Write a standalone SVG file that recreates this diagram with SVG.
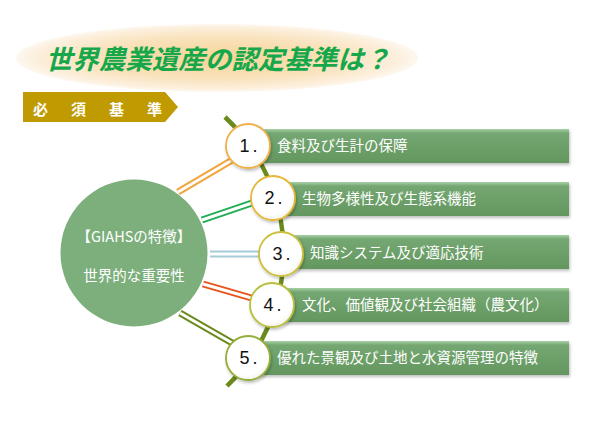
<svg xmlns="http://www.w3.org/2000/svg" width="590" height="423" viewBox="0 0 590 423">
<defs>
<radialGradient id="ell" cx="0.5" cy="0.5" r="0.5">
<stop offset="0" stop-color="#f6d497"/>
<stop offset="0.6" stop-color="#f9e2bb"/>
<stop offset="0.9" stop-color="#fcefdc"/>
<stop offset="1" stop-color="#fef8f0"/>
</radialGradient>
<linearGradient id="bar" x1="0" y1="0" x2="0" y2="1">
<stop offset="0" stop-color="#a9d0a6"/>
<stop offset="0.12" stop-color="#74a772"/>
<stop offset="1" stop-color="#64975f"/>
</linearGradient>
<radialGradient id="nc" cx="0.45" cy="0.4" r="0.6">
<stop offset="0" stop-color="#ffffff"/>
<stop offset="0.8" stop-color="#ffffff"/>
<stop offset="1" stop-color="#f2f2ea"/>
</radialGradient>
<filter id="sh" x="-20%" y="-20%" width="140%" height="160%">
<feDropShadow dx="1" dy="2" stdDeviation="1.5" flood-color="#000" flood-opacity="0.25"/>
</filter>
</defs>
<style>
.jp{font-family:"Noto Sans CJK JP","Noto Sans CJK SC",sans-serif;}
.bt{fill:#ffffff;font-size:14.5px;}
.num{font-family:"Liberation Sans",Arial,sans-serif;font-size:18px;fill:#111111;text-anchor:middle;letter-spacing:3px;}
.nc{fill:url(#nc);stroke-width:1.8;filter:url(#sh);}
.bar{fill:url(#bar);filter:url(#sh);}
.dl{stroke-width:7;fill:none;}
.dw{stroke:#ffffff;stroke-width:3;fill:none;}
</style>
<rect width="590" height="423" fill="#ffffff"/>
<g id="title">
<ellipse cx="217" cy="58" rx="201" ry="34" fill="url(#ell)"/>
<text x="218" y="69" text-anchor="middle" class="jp" font-size="26.5" font-weight="bold" font-style="italic" fill="#16a74a">世界農業遺産の認定基準は？</text>
</g>
<g id="banner">
<polygon points="23,92 165,92 178,107 165,122 23,122" fill="#bf9a00"/>
<text x="33" y="115" class="jp" font-size="15" font-weight="bold" fill="#ffffff" letter-spacing="4">必　須　基　準</text>
</g>
<g id="connectors">
<path d="M225,117 A186,186 0 0 1 227,386" stroke="#6b8a1c" stroke-width="4.5" fill="none"/>
<line class="dl" x1="178" y1="192" x2="234" y2="159" stroke="#f2a43a"/>
<line class="dw" x1="178" y1="192" x2="234" y2="159"/>
<line class="dl" x1="202" y1="220" x2="255" y2="202" stroke="#1fae55"/>
<line class="dw" x1="202" y1="220" x2="255" y2="202"/>
<line class="dl" x1="210" y1="254" x2="262" y2="254" stroke="#a6cbd8"/>
<line class="dw" x1="210" y1="254" x2="262" y2="254"/>
<line class="dl" x1="203" y1="284" x2="255" y2="299" stroke="#e8541a"/>
<line class="dw" x1="203" y1="284" x2="255" y2="299"/>
<line class="dl" x1="180" y1="313" x2="234" y2="344" stroke="#6b8a1c"/>
<line class="dw" x1="180" y1="313" x2="234" y2="344"/>
</g>
<g id="center">
<circle cx="134" cy="253" r="73.5" fill="#7caf7b"/>
<text x="134" y="242" text-anchor="middle" class="jp bt">【GIAHSの特徴】</text>
<text x="134" y="281" text-anchor="middle" class="jp bt">世界的な重要性</text>
</g>
<g id="item1">
<rect class="bar" x="248" y="129" width="321" height="34"/>
<circle class="nc" cx="248" cy="146" r="22" stroke="#f0b048"/>
<text class="num" x="250" y="152">1.</text>
<text class="jp bt" x="277" y="151">食料及び生計の保障</text>
</g>
<g id="item2">
<rect class="bar" x="273" y="182" width="296" height="34"/>
<circle class="nc" cx="273" cy="198" r="22" stroke="#e6b838"/>
<text class="num" x="275" y="204">2.</text>
<text class="jp bt" x="302" y="204">生物多様性及び生態系機能</text>
</g>
<g id="item3">
<rect class="bar" x="280" y="235" width="289" height="34"/>
<circle class="nc" cx="281" cy="254" r="22" stroke="#cfc03a"/>
<text class="num" x="283" y="260">3.</text>
<text class="jp bt" x="310" y="258">知識システム及び適応技術</text>
</g>
<g id="item4">
<rect class="bar" x="272" y="288" width="297" height="34"/>
<circle class="nc" cx="272" cy="305" r="22" stroke="#b8bf3c"/>
<text class="num" x="274" y="311">4.</text>
<text class="jp bt" x="302" y="310">文化、価値観及び社会組織（農文化）</text>
</g>
<g id="item5">
<rect class="bar" x="248" y="341" width="321" height="34"/>
<circle class="nc" cx="248" cy="358" r="22" stroke="#94ad3a"/>
<text class="num" x="250" y="364">5.</text>
<text class="jp bt" x="277" y="363">優れた景観及び土地と水資源管理の特徴</text>
</g>
</svg>
